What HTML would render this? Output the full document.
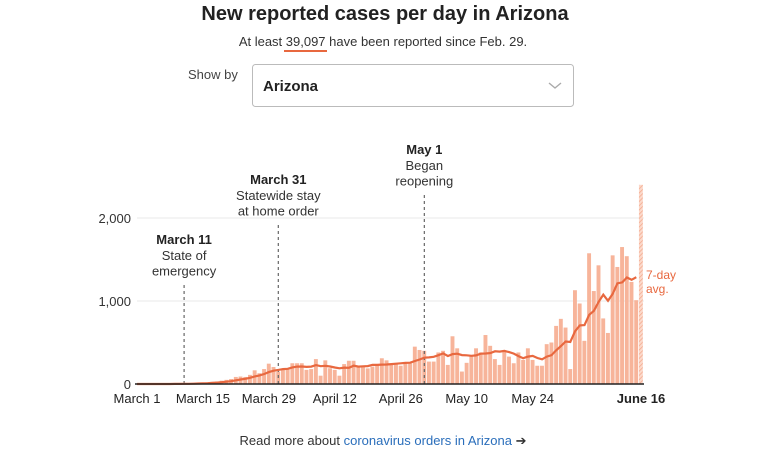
<!DOCTYPE html>
<html><head><meta charset="utf-8"><style>
html,body{margin:0;padding:0;background:#fff;}
body{width:771px;height:468px;overflow:hidden;font-family:"Liberation Sans",sans-serif;}
svg text{font-family:"Liberation Sans",sans-serif;}
</style></head><body>
<svg id="c" width="771" height="468" viewBox="0 0 771 468">
<text x="385" y="20" text-anchor="middle" font-size="20" font-weight="bold" fill="#222">New reported cases per day in Arizona</text>
<text x="383" y="46" text-anchor="middle" font-size="13" fill="#333">At least 39,097 have been reported since Feb. 29.</text>
<rect x="284" y="50" width="43" height="2" fill="#e8683f"/>
<text x="188" y="79" font-size="13" fill="#444">Show by</text>
<g>
<rect x="252.5" y="64.5" width="321" height="42" rx="3" fill="#fff" stroke="#bbb"/>
<text x="263" y="91" font-size="15" font-weight="bold" fill="#222">Arizona</text>
<path d="M549 83 l6 5 l6 -5" fill="none" stroke="#aaa" stroke-width="1.4"/>
</g>
<g id="grid"></g>
<g id="bars"></g>
<g id="annot"></g>
<path id="avg" fill="none" stroke="#e8683f" stroke-width="2.2"/>
<line x1="135" y1="384" x2="644" y2="384" stroke="#222" stroke-width="1.5"/>
<g id="xt"></g>
<text x="646" y="279" font-size="12" fill="#e8683f">7-day</text>
<text x="646" y="293" font-size="12" fill="#e8683f">avg.</text>
<text x="383" y="445" text-anchor="middle" font-size="13" fill="#333">Read more about <tspan fill="#2a6ebb">coronavirus orders in Arizona</tspan> ➔</text>
<defs><pattern id="hatch" width="3" height="3" patternUnits="userSpaceOnUse" patternTransform="rotate(45)"><rect width="3" height="3" fill="#fbd9cb"/><line x1="0" y1="0" x2="0" y2="3" stroke="#f3a88b" stroke-width="1.5"/></pattern></defs>
</svg>
<script>
const cases = [0,0,0,0,1,0,1,2,2,3,6,5,
8,12,15,20,25,30,40,50,60,
85,90,85,110,165,130,180,245,205,150,
180,190,250,250,250,170,180,300,100,285,
190,170,100,240,280,280,210,210,188,210,
230,310,285,245,245,220,245,250,450,410,
400,270,270,380,400,230,575,430,150,255,340,430,380,590,460,300,230,400,330,250,380,
290,430,290,220,220,480,500,700,785,680,180,1130,970,520,1575,
1120,1430,790,615,1550,1410,1650,1540,1230,1010,2400];
const yTicks = [0,1000,2000];
const yTickLabels = ["0","1,000","2,000"];
const xTickDays = [0,14,28,42,56,70,84,107];
const xTickLabels = ["March 1","March 15","March 29","April 12","April 26","May 10","May 24","June 16"];
const eventDays = [10,30,61];
const eventTitles = ["March 11","March 31","May 1"];
const eventLines = [["State of","emergency"],["Statewide stay","at home order"],["Began","reopening"]];

const NS="http://www.w3.org/2000/svg";
const x0=137,x1=641,y0=384,yPer=0.083;
const step=(x1-x0)/107;
const xs=d=>x0+d*step;
const ys=v=>y0-v*yPer;
function mk(tag,attrs,parent){const e=document.createElementNS(NS,tag);for(const k in attrs)e.setAttribute(k,attrs[k]);parent.appendChild(e);return e;}
const grid=document.getElementById('grid');
yTicks.forEach((t,i)=>{
  if(t>0){const l=mk('line',{x1:x0,x2:x1+3,y1:ys(t),y2:ys(t),stroke:'#e8e8e8'},grid);
  
  }
  const tx=mk('text',{x:131,y:ys(t)+5,'text-anchor':'end','font-size':13,fill:'#333'},grid);
  tx.textContent=yTickLabels[i];
  
  
});
const bars=document.getElementById('bars');
cases.forEach((v,d)=>{
  const last=d===cases.length-1;
  const r=mk('rect',{x:xs(d)-step/2+0.3,y:ys(v),width:step-0.8,height:v*yPer,fill:last?'url(#hatch)':'#f7b49a'},bars);
  
  
});
// last (partial) day excluded from the average
const complete=cases.slice(0,cases.length-1);
let p='';
complete.forEach((v,d)=>{const s=complete.slice(Math.max(0,d-6),d+1);const a=s.reduce((q,w)=>q+w,0)/s.length;p+=(d?'L':'M')+xs(d).toFixed(1)+' '+ys(a).toFixed(1);});
document.getElementById('avg').setAttribute('d',p);
const an=document.getElementById('annot');
const topY=[244,184,154];
eventDays.forEach((d,i)=>{
  const x=xs(d);
  const ln=mk('line',{x1:x,x2:x,y1:topY[i]+41,y2:y0,stroke:'#666','stroke-dasharray':'3,3','stroke-width':1.2},an);
  
  
  const t=mk('text',{x:x,y:topY[i],'text-anchor':'middle','font-size':13,'font-weight':'bold',fill:'#222'},an);
  t.textContent=eventTitles[i];
  
  
  eventLines[i].forEach((s,j)=>{
    const u=mk('text',{x:x,y:topY[i]+16+j*15.5,'text-anchor':'middle','font-size':13,fill:'#333'},an);
    u.textContent=s;
    
    
  });
});
const xt=document.getElementById('xt');
xTickDays.forEach((d,i)=>{
  const last=i===xTickDays.length-1;
  const t=mk('text',{x:xs(d),y:403,'text-anchor':'middle','font-size':13,fill:'#222','font-weight':last?'bold':'normal'},xt);
  t.textContent=xTickLabels[i];
  
  
});
</script>
</body></html>
